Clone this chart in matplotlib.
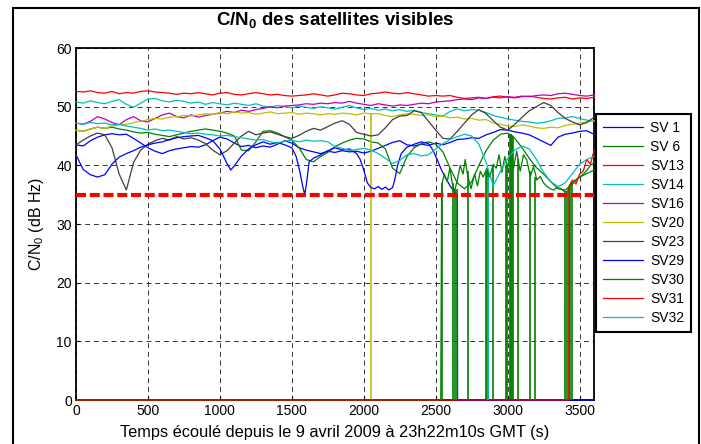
import matplotlib
matplotlib.use('Agg')
import matplotlib.pyplot as plt
from matplotlib.patches import Rectangle
import numpy as np

plt.rcParams['font.family'] = ['Liberation Sans', 'DejaVu Sans']
plt.rcParams['mathtext.fontset'] = 'custom'
plt.rcParams['mathtext.rm'] = 'Liberation Sans'
plt.rcParams['mathtext.bf'] = 'Liberation Sans:bold'
plt.rcParams['mathtext.default'] = 'regular'

# ---------------- data ----------------
T50 = np.arange(0, 3601, 50)  # common sampling grid (s)

labels = ['SV 1', 'SV 6', 'SV13', 'SV14', 'SV16', 'SV20', 'SV23', 'SV29', 'SV30', 'SV31', 'SV32']

sv1 = [43.5, 43.3, 44.2, 44.8, 45.2, 45.4, 45.2, 45.3, 44.6, 43.8,
       43.0, 42.4, 42.0, 42.5, 42.8, 43.0, 43.2, 43.1, 43.5, 44.2,
       44.8, 44.5, 43.8, 43.2, 43.4, 43.0, 43.3, 43.1, 43.6, 44.2,
       43.8, 43.0, 42.6, 42.3, 42.0, 42.4, 42.2, 42.5, 42.3, 42.4,
       42.1, 42.4, 42.9, 43.4, 43.9, 44.2, 43.5, 43.3, 43.6, 43.4,
       43.8, 43.5, 43.9, 44.4, 44.5, 44.7, 44.6, 45.2, 45.6, 46.1,
       46.0, 45.7, 45.5, 45.2, 44.6, 44.0, 43.4, 44.8, 45.3, 45.5,
       45.8, 45.9, 45.3]

sv6 = [46.0, 45.8, 46.2, 46.5, 46.3, 46.5, 46.2, 46.0, 45.7, 45.5,
       45.6, 45.3, 45.1, 44.9, 45.2, 45.5, 45.8, 46.0, 46.2, 46.0,
       45.8, 45.5, 45.0, 42.6, 42.5, 44.0, 45.8, 45.9, 45.5, 44.9,
       44.3, 43.0, 41.0, 40.6, 41.5, 42.2, 43.2, 43.8, 44.3, 44.6,
       44.5, 44.0, 43.8, 42.8, 39.5, 38.6, 41.5, 43.0, 43.7, 44.0,
       43.6, 42.3, 39.5, 37.0, 36.0, 37.2, 40.0, 42.5, 44.3, 45.3,
       45.5, 44.6, 43.0, 41.2, 39.6, 38.5, 37.2, 36.0, 35.8, 36.8,
       38.0, 38.6, 39.2]

sv13 = [52.6, 52.5, 52.7, 52.4, 52.3, 52.6, 52.2, 52.4, 52.3, 52.6,
        52.7, 52.5, 52.4, 52.3, 52.1, 52.3, 52.2, 52.4, 52.2, 52.0,
        52.3, 52.4, 52.1, 52.0, 52.2, 52.4, 52.2, 52.0, 52.1, 51.9,
        51.8, 51.9, 52.0, 52.2, 52.0, 51.8, 52.0, 52.3, 52.2, 52.0,
        51.9, 52.2, 52.3, 52.5, 52.3, 52.2, 52.4, 52.2, 52.0, 51.8,
        51.9, 51.8, 51.9, 51.6, 51.4, 51.5, 51.6, 51.4, 51.7, 51.8,
        51.6, 51.5, 51.7, 51.8, 51.6, 51.4, 51.3, 51.5, 51.6, 51.3,
        51.5, 51.4, 51.6]

sv14 = [50.8, 50.6, 51.0, 50.7, 50.5, 50.9, 51.2, 50.4, 49.9, 50.6,
        51.3, 51.4, 51.0, 50.8, 51.1, 50.9, 50.6, 50.8, 50.4, 50.7,
        50.5, 50.3, 50.6, 50.4, 50.2, 50.5, 50.1, 49.9, 50.2, 50.0,
        49.8, 50.1, 49.9, 49.7, 50.0, 49.8, 49.6, 49.9, 50.2, 49.8,
        49.5, 49.7, 49.4, 49.6, 49.3, 49.5, 49.2, 49.4, 49.0, 48.8,
        48.6, 48.4, 49.2, 49.6, 49.3, 49.5, 49.4, 49.0, 48.5, 48.2,
        47.9, 47.7, 47.5, 47.4, 47.2, 47.3, 47.6, 48.0, 48.1, 48.3,
        48.0, 47.7, 47.5]

sv16 = [47.2, 47.0, 47.5, 48.3, 47.9, 47.3, 46.9, 47.8, 48.3, 47.6,
        47.4, 48.0, 48.6, 48.9, 48.3, 48.1, 48.6, 48.2, 48.5, 48.7,
        48.9, 49.2, 49.0, 49.4, 49.2, 49.5, 49.7, 50.0, 49.8, 50.1,
        50.2, 50.3, 50.5, 50.4, 50.6, 50.5, 50.7, 50.6, 50.9, 50.6,
        50.4, 50.2, 50.5, 50.3, 50.1, 50.3, 50.2, 50.4, 50.6, 50.5,
        50.8, 50.9, 51.0, 51.2, 51.3, 51.2, 51.5, 51.4, 51.6, 51.5,
        51.7, 51.6, 51.8, 51.7, 51.9, 52.0, 51.9, 52.2, 52.3, 52.1,
        51.9, 51.8, 52.0]

sv20 = [46.0, 45.8, 46.2, 46.5, 46.3, 46.7, 46.9, 47.0, 47.3, 47.5,
        47.8, 48.0, 47.9, 48.2, 48.3, 48.5, 48.4, 48.6, 48.8, 48.7,
        49.0, 48.8, 49.1, 48.9, 49.0, 48.7, 48.9, 49.1, 48.8, 48.9,
        49.0, 48.7, 48.9, 48.8, 48.6, 48.8, 48.7, 48.9, 48.8, 48.6,
        48.9, 48.8, 48.8, 48.5, 48.3, 48.6, 48.8, 48.7, 48.5, 48.6,
        48.3, 48.4, 48.1, 48.2, 47.9, 48.0, 47.7, 47.8, 47.2, 47.0,
        46.7, 46.6, 46.9, 46.7, 46.4, 46.3, 46.5, 46.4, 46.8, 47.0,
        47.2, 47.4, 47.6]

sv23 = [43.5, 44.3, 45.0, 45.5, 45.2, 43.0, 38.5, 35.8, 40.5, 42.6,
        43.6, 44.2, 44.6, 44.3, 44.9, 44.5, 44.7, 44.3, 43.7, 42.6,
        41.8, 42.5, 43.8, 45.0, 45.8, 45.2, 45.5, 45.7, 45.3, 44.9,
        44.6, 45.1, 45.8, 46.3, 46.0, 46.6, 47.2, 47.6, 47.0, 45.6,
        45.3, 45.0, 45.2, 46.4, 47.8, 48.4, 48.5, 49.3, 49.0, 47.5,
        46.0, 44.6, 44.5, 45.8, 47.2, 48.6, 49.5, 48.8, 47.6, 46.5,
        46.0, 47.0, 48.2, 49.3, 50.0, 50.7, 50.2, 49.0, 48.0, 47.4,
        46.9, 47.3, 48.2]

sv29_t = [0, 50, 100, 150, 200, 250, 300, 350, 400, 450,
          500, 550, 600, 650, 700, 750, 800, 850, 900, 950,
          1000, 1050, 1075, 1100, 1150, 1200, 1250, 1300, 1350, 1400,
          1450, 1500, 1530, 1555, 1575, 1590, 1605, 1620, 1650, 1700,
          1750, 1800, 1850, 1900, 1950, 1975, 2000, 2025, 2050, 2075,
          2100, 2125, 2150, 2175, 2200, 2215, 2235, 2260, 2300, 2350,
          2400, 2450, 2480, 2510, 2540, 2570, 2600, 2625, 2650, 2652,
          3600]
sv29 = [41.8, 39.3, 38.4, 38.0, 38.4, 40.2, 41.4, 42.0, 42.5, 43.1,
        43.5, 43.8, 44.0, 44.4, 44.7, 44.9, 45.0, 45.1, 44.7, 44.2,
        42.8, 40.3, 39.2, 39.9, 41.6, 42.8, 43.5, 44.0, 43.6, 43.9,
        43.5, 43.0, 41.5, 39.0, 36.5, 35.0, 37.5, 40.6, 41.2, 41.8,
        42.5, 43.0, 42.6, 42.8, 42.0, 41.0, 39.2, 37.0, 36.2, 36.0,
        36.4, 35.9, 36.3, 35.8, 36.2, 37.5, 40.0, 42.0, 43.1, 43.6,
        44.0, 43.7, 42.6, 41.0, 39.2, 37.8, 36.5, 35.6, 35.0, 0.0,
        0.0]

sv30_t = [0, 2535, 2541, 2560, 2580, 2598, 2615, 2630, 2650, 2670,
          2690, 2705, 2720, 2745, 2770, 2790, 2810, 2830, 2855, 2875,
          2900, 2920, 2940, 2960, 2980, 3000, 3015, 3040, 3063, 3087,
          3110, 3133, 3157, 3180, 3203, 3226, 3250, 3273, 3296, 3320,
          3343, 3366, 3390, 3412, 3440, 3470, 3505, 3530, 3552, 3575,
          3600]
sv30 = [0.0, 0.0, 36.6, 38.5, 37.2, 39.5, 37.0, 35.5, 37.5, 40.0,
        38.5, 41.0, 38.5, 36.0, 38.5, 36.5, 39.0, 38.0, 39.5, 38.0,
        40.2, 39.5, 41.8, 38.8, 41.5, 39.5, 42.1, 39.5, 42.4, 39.0,
        41.8, 40.9, 38.1, 39.8, 37.5, 38.1, 37.0, 36.4, 36.0, 35.8,
        36.2, 36.1, 35.6, 35.5, 36.9, 37.5, 38.1, 38.6, 39.2, 40.0,
        40.5]

sv31_t = [0, 3425, 3427, 3450, 3475, 3500, 3525, 3550, 3575, 3600]
sv31 = [0.0, 0.0, 36.5, 37.5, 36.8, 38.5, 39.0, 41.0, 40.2, 42.5]

sv32 = [47.2, 47.0, 47.3, 47.1, 47.2, 46.9, 47.0, 46.7, 46.5, 46.3,
        46.0, 46.2, 45.9, 46.0, 45.8, 45.6, 45.4, 45.5, 45.3, 45.2,
        45.0, 45.1, 44.9, 44.7, 44.5, 44.3, 44.4, 44.0, 43.8, 44.1,
        44.3, 44.0, 44.3, 44.1, 44.2, 44.0, 43.2, 42.9, 42.5, 42.7,
        42.9, 42.6, 42.0, 41.2, 40.3, 40.8, 41.8, 42.0, 41.6, 41.8,
        42.8, 43.7, 44.4, 44.9, 45.3, 45.0, 43.6, 40.5, 36.5, 39.0,
        41.2, 42.6, 43.3, 42.8, 41.0, 38.8, 37.2, 36.4, 37.0, 38.6,
        40.2, 41.0, 41.5]

# single-sample losses of lock (time, level before the drop to 0)
sv6_drop_t = [3017, 3025, 3032, 3040]
sv6_drop_v = [45.4, 45.3, 45.2, 45.0]
sv20_drop_t = [2050]
sv20_drop_v = [48.8]
sv30_drop_t = [2545, 2622, 2635, 2645, 2726, 2849, 2855, 2861, 2900, 2987,
               2994, 3070, 3152, 3191, 3400, 3410, 3425, 3435, 3447]
sv30_drop_v = [37.0, 37.0, 36.0, 36.0, 39.0, 39.0, 39.0, 39.0, 40.0, 40.0,
               40.0, 41.0, 39.0, 38.0, 35.6, 35.5, 36.0, 36.5, 37.0]
sv32_drop_t = [2866]
sv32_drop_v = [38.0]

threshold = 35

# ---------------- figure ----------------
W, H = 701, 444
fig = plt.figure(figsize=(W / 100, H / 100), dpi=100)
fig.patch.set_facecolor('white')
fig.add_artist(Rectangle((13 / W, -0.05), (699 - 13) / W, 1.05 - 8 / H,
                         transform=fig.transFigure, fill=False,
                         edgecolor='black', linewidth=1.5, clip_on=False))

ax = fig.add_axes([76 / W, 44 / H, 518 / W, 352 / H])

cb = (0, 0, 1)
cg = (0, 0.5, 0)
cr = (1, 0, 0)
cc = (0, 0.75, 0.75)
cm = (0.75, 0, 0.75)
cy = (0.75, 0.75, 0)
ck = (0.25, 0.25, 0.25)

series = [
    (T50, sv1, cb, None, None),
    (T50, sv6, cg, sv6_drop_t, sv6_drop_v),
    (T50, sv13, cr, None, None),
    (T50, sv14, cc, None, None),
    (T50, sv16, cm, None, None),
    (T50, sv20, cy, sv20_drop_t, sv20_drop_v),
    (T50, sv23, ck, None, None),
    (sv29_t, sv29, cb, None, None),
    (sv30_t, sv30, cg, sv30_drop_t, sv30_drop_v),
    (sv31_t, sv31, cr, None, None),
    (T50, sv32, cc, sv32_drop_t, sv32_drop_v),
]

for (t, v, col, dt, dv), lab in zip(series, labels):
    ax.plot(t, v, color=col, linewidth=0.9, label=lab, zorder=3, clip_on=False)
    if dt is not None:
        ax.vlines(dt, 0, dv, color=col, linewidth=1.2, zorder=3)

ax.plot([0, 3600], [threshold, threshold], color='red', linewidth=3.0,
        dashes=(2.4, 0.9), zorder=4)

ax.set_xlim(0, 3600)
ax.set_ylim(0, 60)
ax.set_xticks(np.arange(0, 3501, 500))
ax.set_yticks(np.arange(0, 61, 10))
ax.grid(True, color='0.2', linestyle=(0, (5, 4)), linewidth=0.7)
ax.tick_params(direction='in', length=3, labelsize=10, pad=3)
for s in ax.spines.values():
    s.set_linewidth(1.3)

ax.set_xlabel('Temps écoulé depuis le 9 avril 2009 à 23h22m10s GMT (s)', fontsize=11.8)
ax.xaxis.set_label_coords(0.5, -(432 - 400) / 352)
ax.xaxis.label.set_va('center')
ax.set_ylabel('C/N$_0$ (dB Hz)', fontsize=11.5)
ax.yaxis.set_label_coords(-(76 - 37) / 518, 0.5)
ax.yaxis.label.set_va('center')

fig.text(335 / W, 1 - 20 / H, r'C/N$_{\mathbf{0}}$ des satellites visibles',
         ha='center', va='center', fontsize=13.5, fontweight='bold')

leg = ax.legend(loc='upper left', bbox_to_anchor=(596 / W, 1 - 114 / H),
                bbox_transform=fig.transFigure, borderaxespad=0,
                fancybox=False, edgecolor='black', framealpha=1,
                fontsize=10, handlelength=2.9, handletextpad=0.5,
                labelspacing=0.36, borderpad=0.5)
leg.get_frame().set_linewidth(1.5)

fig.savefig('out.png', dpi=100)
